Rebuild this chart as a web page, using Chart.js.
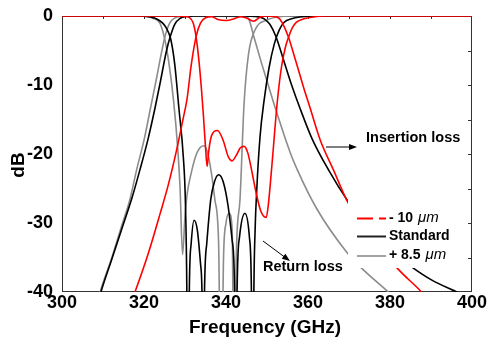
<!DOCTYPE html>
<html>
<head>
<meta charset="utf-8">
<script src="https://cdn.jsdelivr.net/npm/chart.js@4.4.1/dist/chart.umd.min.js"></script>
<style>
  html, body { margin: 0; padding: 0; background: #fff; }
  canvas { display: block; }
</style>
</head>
<body>
<canvas id="filterChart" width="487" height="340"></canvas>
<script>
// S-parameters of the filter for three iris widths (frequency in GHz, level in dB)
var xTicks = [300, 320, 340, 360, 380, 400];
var yTicks = [0, -10, -20, -30, -40];

// -10 um
var minus_il_f  = [310, 317.8, 321, 324, 326, 328, 329.5, 330.5, 331.5, 332.7, 333.8, 335, 336.5, 338, 340, 342, 343.5, 345, 346.7, 348.5, 350, 352, 353.2, 355.2, 357, 359, 360.5, 363, 366.2, 369.8, 375, 381.7, 387.7, 392];
var minus_il_db = [-52, -40, -34.5, -28.5, -24.3, -19.3, -15, -12, -7.2, -3, -1, -0.25, -0.1, -0.5, -0.65, -0.4, -0.1, -0.3, -0.75, -0.1, 0, -0.1, -0.5, -3, -6.5, -10.5, -13.3, -18, -22.3, -27.1, -31.5, -36.5, -40, -43];
var minus_rl_f  = [300, 328, 330, 331, 332, 332.7, 333.4, 334, 334.5, 335, 335.4, 335.8, 336.5, 337.9, 339.3, 340.5, 341.5, 342.5, 343.5, 344.4, 345.3, 346.3, 347.3, 348.5, 349.8, 350.3, 351.1, 352.5, 353.5, 354.5, 355.3, 356.2, 357.2, 359, 361.3, 364, 400];
var minus_rl_db = [0, 0, -0.05, -0.2, -1, -3, -6.5, -10.5, -14.5, -19, -21.8, -19.5, -17.3, -16.6, -18, -20.3, -21, -20.2, -19.1, -18.9, -19.8, -22.5, -25.5, -28.3, -29.2, -27.5, -22.3, -12.5, -7.5, -4.5, -3, -1.7, -0.9, -0.4, -0.15, 0, 0];

// standard
var std_il_f  = [305, 309.5, 312, 314.5, 317, 319, 321, 322.7, 324, 325.5, 326.5, 327.5, 328.8, 330.5, 332, 345, 347, 348.5, 349.5, 350.7, 352.2, 354, 356, 358, 361, 365, 369.8, 375, 380, 385.6, 390, 396.3, 400];
var std_il_db = [-50, -40, -35.5, -31, -26.5, -22.3, -17.8, -13.3, -9.5, -5, -2.8, -1.2, -0.35, -0.05, 0, 0, -0.05, -0.2, -0.5, -1.2, -3, -6.3, -10, -13.3, -17.8, -22.3, -26.9, -31, -33.9, -36.5, -38.2, -40, -41];
var std_rl_f  = [300, 318, 321.5, 323, 324.5, 325.5, 326.5, 327.5, 328.5, 329.6, 330.1, 330.45, 330.75, 331.05, 331.5, 332.2, 333, 333.8, 334.2, 334.45, 334.7, 335.3, 336.3, 337.2, 338.2, 339.3, 340.5, 341.5, 342.1, 342.4, 342.7, 343.3, 344.6, 345.7, 346.2, 346.5, 346.8, 347.1, 347.5, 348.3, 349.3, 350.5, 351.8, 353, 354.2, 356, 358, 362, 400];
var std_rl_db = [0, 0, -0.15, -0.4, -1, -1.8, -3.3, -7, -13.3, -20.5, -27, -40, -70, -40, -33, -29.6, -31, -36, -42, -70, -42, -33, -26.5, -24, -23, -24, -27.5, -32.5, -40, -70, -40, -32, -28.6, -32, -40, -70, -40, -31, -25.2, -17.5, -12.2, -7.5, -4, -2, -0.9, -0.4, -0.15, 0, 0];

// +8.5 um
var plus_il_f  = [305, 309.3, 312, 314.5, 316.6, 318.2, 320, 321.6, 323, 324.2, 325.2, 326.3, 327.5, 329, 331, 344, 345.4, 346.8, 348.5, 350.3, 352, 355.6, 357.4, 362.1, 369.4, 373, 379.6, 385];
var plus_il_db = [-50, -40, -35.3, -30.5, -26.5, -22.3, -18, -13.3, -9.2, -5.5, -2.8, -1, -0.3, -0.05, 0, -0.05, -0.3, -3, -6.5, -10, -13.3, -19.7, -22.3, -27.9, -34.2, -36.5, -40, -43];
var plus_rl_f  = [300, 318, 320.7, 322, 323.9, 325, 326, 327.2, 328.2, 328.8, 329.4, 330, 330.6, 331.5, 332.5, 333.5, 334.6, 335.5, 336.5, 337.3, 338.2, 338.8, 339.4, 340, 340.8, 341.5, 342, 342.5, 343.4, 344.4, 345.5, 347.1, 349.9, 353, 356, 400];
var plus_rl_db = [0, 0, 0, -0.3, -1.06, -3.2, -6.5, -12.2, -19, -25, -34.6, -29, -25.5, -22.8, -20.5, -19.2, -18.8, -19.8, -23, -26.7, -33, -60, -35, -30, -28.6, -31, -60, -35, -26.7, -12.8, -5.5, -2, -0.6, -0.1, 0, 0];

var RED = "#ff0000";
var BLACK = "#000000";
var GRAY = "#8c8c8c";
var FONT = "Liberation Sans, Arial, sans-serif";

function pts(f, db) {
    return f.map(function (v, i) { return { x: v, y: db[i] }; });
}

function curve(f, db, color) {
    return {
        data: pts(f, db),
        borderColor: color,
        borderWidth: 1.6,
        pointRadius: 0,
        fill: false,
        cubicInterpolationMode: "monotone"
    };
}

function arrow(ctx, x1, y1, x2, y2) {
    var a = Math.atan2(y2 - y1, x2 - x1);
    ctx.beginPath();
    ctx.moveTo(x1, y1);
    ctx.lineTo(x2 - 6 * Math.cos(a), y2 - 6 * Math.sin(a));
    ctx.stroke();
    ctx.beginPath();
    ctx.moveTo(x2, y2);
    ctx.lineTo(x2 - 8 * Math.cos(a) + 3 * Math.sin(a), y2 - 8 * Math.sin(a) - 3 * Math.cos(a));
    ctx.lineTo(x2 - 8 * Math.cos(a) - 3 * Math.sin(a), y2 - 8 * Math.sin(a) + 3 * Math.cos(a));
    ctx.closePath();
    ctx.fill();
}

// frame and inward ticks go under the curves
var framePlugin = {
    id: "frame",
    beforeDatasetsDraw: function (chart) {
        var ctx = chart.ctx, a = chart.chartArea;
        var xs = chart.scales.x, ys = chart.scales.y;
        ctx.save();
        ctx.strokeStyle = "#333";
        ctx.lineWidth = 1;
        ctx.strokeRect(a.left + 0.5, a.top + 0.5, a.right - a.left - 1, a.bottom - a.top - 1);
        ctx.beginPath();
        for (var f = 310; f < 400; f += 10) {
            var px = Math.round(xs.getPixelForValue(f)) + 0.5;
            ctx.moveTo(px, a.top);
            ctx.lineTo(px, a.top + 3);
        }
        for (var d = -5; d > -40; d -= 5) {
            var py = Math.round(ys.getPixelForValue(d)) + 0.5;
            ctx.moveTo(a.right, py);
            ctx.lineTo(a.right - 4, py);
        }
        ctx.stroke();
        ctx.restore();
    },
    afterDatasetsDraw: function (chart) {
        var ctx = chart.ctx;
        ctx.save();

        // legend panel
        ctx.fillStyle = "#fff";
        ctx.fillRect(348, 196, 118, 72);

        ctx.lineWidth = 2;
        ctx.strokeStyle = RED;
        ctx.setLineDash([16, 6]);
        ctx.beginPath(); ctx.moveTo(357, 218.5); ctx.lineTo(386, 218.5); ctx.stroke();
        ctx.setLineDash([]);
        ctx.strokeStyle = "#222";
        ctx.beginPath(); ctx.moveTo(357, 236.5); ctx.lineTo(386, 236.5); ctx.stroke();
        ctx.strokeStyle = GRAY;
        ctx.lineWidth = 1.6;
        ctx.beginPath(); ctx.moveTo(357, 256); ctx.lineTo(386, 256); ctx.stroke();

        ctx.fillStyle = "#000";
        ctx.textBaseline = "middle";
        ctx.textAlign = "left";
        ctx.font = "bold 14px " + FONT;
        ctx.fillText("- 10 ", 389, 218);
        var w1 = ctx.measureText("- 10 ").width;
        ctx.fillText("Standard", 389, 236);
        ctx.fillText("+ 8.5 ", 389, 255);
        var w2 = ctx.measureText("+ 8.5 ").width;
        ctx.font = "italic 15px " + FONT;
        ctx.fillText("\u03bcm", 389 + w1 + 1, 218);
        ctx.fillText("\u03bcm", 389 + w2 + 1, 255);

        // callouts
        ctx.font = "bold 14.5px " + FONT;
        ctx.fillText("Insertion loss", 366, 138);
        ctx.fillText("Return loss", 263, 267);
        ctx.strokeStyle = "#000";
        ctx.fillStyle = "#000";
        ctx.lineWidth = 1;
        arrow(ctx, 326, 147, 357, 147);
        arrow(ctx, 263, 241, 290, 261);

        // axis titles
        ctx.font = "bold 19px " + FONT;
        ctx.textAlign = "center";
        ctx.fillText("Frequency (GHz)", 265, 328);
        ctx.translate(19, 165);
        ctx.rotate(-Math.PI / 2);
        ctx.fillText("dB", 0, 0);
        ctx.restore();
    }
};

var ctx = document.getElementById("filterChart");
var chart = new Chart(ctx, {
    type: "line",
    data: {
        datasets: [
            curve(minus_il_f, minus_il_db, RED),
            curve(minus_rl_f, minus_rl_db, RED),
            curve(std_il_f, std_il_db, BLACK),
            curve(std_rl_f, std_rl_db, BLACK),
            curve(plus_il_f, plus_il_db, GRAY),
            curve(plus_rl_f, plus_rl_db, GRAY)
        ]
    },
    options: {
        responsive: false,
        animation: false,
        devicePixelRatio: 1,
        layout: { padding: { left: 0, top: 16, right: 15, bottom: 0 } },
        plugins: {
            legend: { display: false },
            tooltip: { enabled: false }
        },
        scales: {
            x: {
                type: "linear",
                min: xTicks[0],
                max: xTicks[xTicks.length - 1],
                grid: { display: false },
                border: { display: false },
                afterBuildTicks: function (s) { s.ticks = xTicks.map(function (v) { return { value: v }; }); },
                afterFit: function (s) { s.height = 48; s.paddingLeft = 0; s.paddingRight = 0; },
                ticks: {
                    autoSkip: false,
                    maxRotation: 0,
                    padding: -8,
                    color: "#000",
                    font: { family: FONT, size: 18, weight: "bold" }
                }
            },
            y: {
                min: yTicks[yTicks.length - 1],
                max: yTicks[0],
                grid: { display: false },
                border: { display: false },
                afterBuildTicks: function (s) { s.ticks = yTicks.map(function (v) { return { value: v }; }); },
                afterFit: function (s) { s.width = 62; s.paddingTop = 0; s.paddingBottom = 0; },
                ticks: {
                    padding: 1,
                    color: "#000",
                    font: { family: FONT, size: 18, weight: "bold" },
                    callback: function (v) { return String(v); }
                }
            }
        }
    },
    plugins: [framePlugin]
});
</script>
</body>
</html>
